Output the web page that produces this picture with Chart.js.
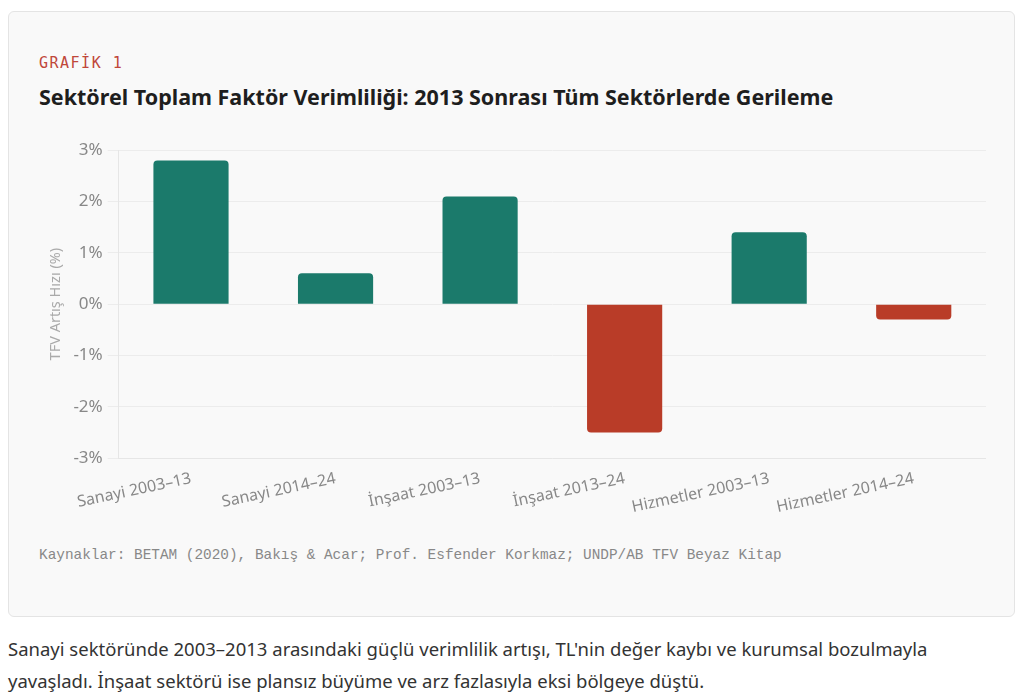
<!DOCTYPE html>
<html lang="tr">
<head>
<meta charset="utf-8">
<title>Grafik 1</title>
<script src="https://cdn.jsdelivr.net/npm/chart.js@4"></script>
<style>
  body { margin: 0; background: #fff; font-family: "Noto Sans", sans-serif; }
  .card {
    position: absolute; left: 8px; top: 11px; width: 1005px; height: 604px;
    background: #f9f9f9; border: 1px solid #e4e4e4; border-radius: 6px;
  }
  .kicker {
    position: absolute; left: 30px; top: 42px;
    font-family: "DejaVu Sans Mono", monospace; font-size: 15px; letter-spacing: 1.5px;
    color: #c0473a;
  }
  .title {
    position: absolute; left: 30px; top: 70px;
    font-size: 21.5px; font-weight: 700; color: #1e1e1e;
  }
  .chart-box { position: absolute; left: 30px; top: 123px; width: 947px; height: 385px; }
  .source {
    position: absolute; left: 30px; top: 535px;
    font-family: "Liberation Mono", monospace; font-size: 14.4px; color: #888;
  }
  .caption {
    position: absolute; left: 8px; top: 633px; width: 960px;
    font-size: 18.5px; line-height: 32px; color: #333;
  }
</style>
</head>
<body>
<div class="card">
  <div class="kicker">GRAFİK 1</div>
  <div class="title">Sektörel Toplam Faktör Verimliliği: 2013 Sonrası Tüm Sektörlerde Gerileme</div>
  <div class="chart-box"><canvas id="tfvChart"></canvas></div>
  <div class="source">Kaynaklar: BETAM (2020), Bakış &amp; Acar; Prof. Esfender Korkmaz; UNDP/AB TFV Beyaz Kitap</div>
</div>
<div class="caption">Sanayi sektöründe 2003–2013 arasındaki güçlü verimlilik artışı, TL'nin değer kaybı ve kurumsal bozulmayla yavaşladı. İnşaat sektörü ise plansız büyüme ve arz fazlasıyla eksi bölgeye düştü.</div>

<script>
// Sectoral TFP growth
const sectors = ['Sanayi 2003–13', 'Sanayi 2014–24', 'İnşaat 2003–13', 'İnşaat 2013–24', 'Hizmetler 2003–13', 'Hizmetler 2014–24'];
const tfpGrowth = [2.8, 0.6, 2.1, -2.5, 1.4, -0.3];
const yTicks = [-3, -2, -1, 0, 1, 2, 3];

const green = '#1b7a6b';
const red = '#b93c28';

new Chart(document.getElementById('tfvChart'), {
    type: 'bar',
    data: {
        labels: sectors,
        datasets: [{
            data: tfpGrowth,
            backgroundColor: tfpGrowth.map(v => v >= 0 ? green : red),
            borderRadius: 4,
            borderSkipped: 'start',
            categoryPercentage: 0.8,
            barPercentage: 0.65
        }]
    },
    options: {
        responsive: true,
        maintainAspectRatio: false,
        animation: false,
        layout: { padding: { left: 4 } },
        plugins: { legend: { display: false }, tooltip: { enabled: false } },
        scales: {
            x: {
                grid: { display: false },
                border: { color: '#e6e6e6' },
                ticks: {
                    color: '#888',
                    font: { family: 'Noto Sans', size: 16 },
                    maxRotation: 12,
                    minRotation: 12
                }
            },
            y: {
                min: yTicks[0],
                max: yTicks[yTicks.length - 1],
                afterBuildTicks: axis => { axis.ticks = yTicks.map(v => ({ value: v })); },
                grid: { color: '#ececec', tickLength: 11 },
                border: { color: '#e6e6e6' },
                ticks: {
                    color: '#888',
                    padding: 5,
                    font: { family: 'Noto Sans', size: 17 },
                    callback: v => v + '%'
                },
                title: {
                    display: true,
                    text: 'TFV Artış Hızı (%)',
                    color: '#aaa',
                    font: { family: 'Noto Sans', size: 14.5 }
                }
            }
        }
    }
});
</script>
</body>
</html>
